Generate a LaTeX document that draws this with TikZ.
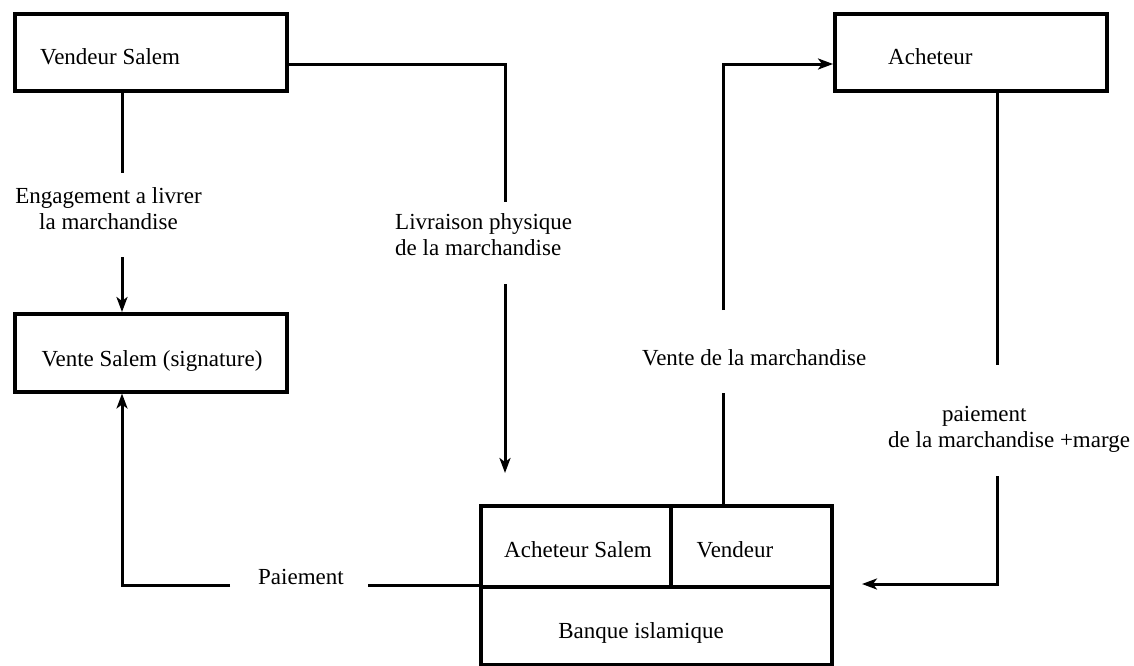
\documentclass[tikz,border=0pt]{standalone}
\usepackage{fontspec}
\setmainfont{Liberation Serif}
\usetikzlibrary{arrows.meta}
\begin{document}
\begin{tikzpicture}[x=1pt,y=-1pt,
  frame/.style={draw=black, line width=3.5pt, inner sep=0pt, anchor=north west},
  txt/.style={font=\fontsize{23}{26}\selectfont, inner sep=0pt, text=black},
  ln/.style={line width=3pt},
  arr/.style={line width=3pt, -{Stealth[length=15pt,width=11pt,inset=4pt]}}]
\useasboundingbox (0,0) rectangle (1134,665);

% parties
\node[frame, minimum width=272pt, minimum height=77pt] (vs) at (13,12) {};
\node[txt, anchor=base west] (vsT) at (40,64) {Vendeur Salem};
\node[frame, minimum width=272pt, minimum height=78pt] (vsig) at (13,312) {};
\node[txt, anchor=base] (vsigT) at (152,366) {Vente Salem (signature)};
\node[frame, minimum width=272pt, minimum height=77pt] (ach) at (833,12) {};
\node[txt, anchor=base west] (achT) at (888,64) {Acheteur};

% banque : deux cases en haut, une en bas
\node[frame, minimum width=190pt, minimum height=81pt] (bl) at (479,504) {};
\node[frame, minimum width=161pt, minimum height=81pt] (br) at (669,504) {};
\node[frame, minimum width=351pt, minimum height=78pt] (bb) at (479,585) {};
\node[txt, anchor=base] (blT) at (578,557) {Acheteur Salem};
\node[txt, anchor=base] (brT) at (735,557) {Vendeur};
\node[txt, anchor=base] (bbT) at (641,638) {Banque islamique};

% libellés des flux (ancrés sur la ligne de base de la dernière ligne)
\node[txt, align=center, anchor=base] (eng) at (108.5,229) {Engagement a livrer\\la marchandise};
\node[txt, align=left, anchor=base west] (liv) at (395,255) {Livraison physique\\de la marchandise};
\node[txt, anchor=base west] (vte) at (642,365) {Vente de la marchandise};
\node[txt, align=left, anchor=base west] (pay) at (888,447) {\hspace*{54pt}paiement\\de la marchandise +marge};
\node[txt, anchor=base west] (paie) at (258,584) {Paiement};

% engagement
\coordinate (e1) at (122,173);
\coordinate (e2) at (122,257);
\draw[ln] (vs.south -| e1) -- (e1);
\draw[arr] (e2) -- (vsig.north -| e2);

% livraison physique
\coordinate (l0) at (505,64);
\coordinate (l1) at (505,202);
\coordinate (l2) at (505,284);
\coordinate (l3) at (505,473);
\draw[ln] (vs.east |- l0) -- (l0) -- (l1);
\draw[arr] (l2) -- (l3);

% vente de la marchandise
\coordinate (v1) at (723,393);
\coordinate (v2) at (723,310);
\coordinate (v3) at (723,64);
\draw[ln] (br.north -| v1) -- (v1);
\draw[arr] (v2) -- (v3) -- (ach.west |- v3);

% paiement + marge
\coordinate (m1) at (997,365);
\coordinate (m2) at (997,476);
\coordinate (m3) at (997,584);
\coordinate (m4) at (862,584);
\draw[ln] (ach.south -| m1) -- (m1);
\draw[arr] (m2) -- (m3) -- (m4);

% paiement
\coordinate (q1) at (368,585);
\coordinate (q2) at (230,585);
\coordinate (q3) at (122,585);
\draw[ln] (bb.north west) -- (q1);
\draw[arr] (q2) -- (q3) -- (vsig.south -| q3);
\end{tikzpicture}
\end{document}
